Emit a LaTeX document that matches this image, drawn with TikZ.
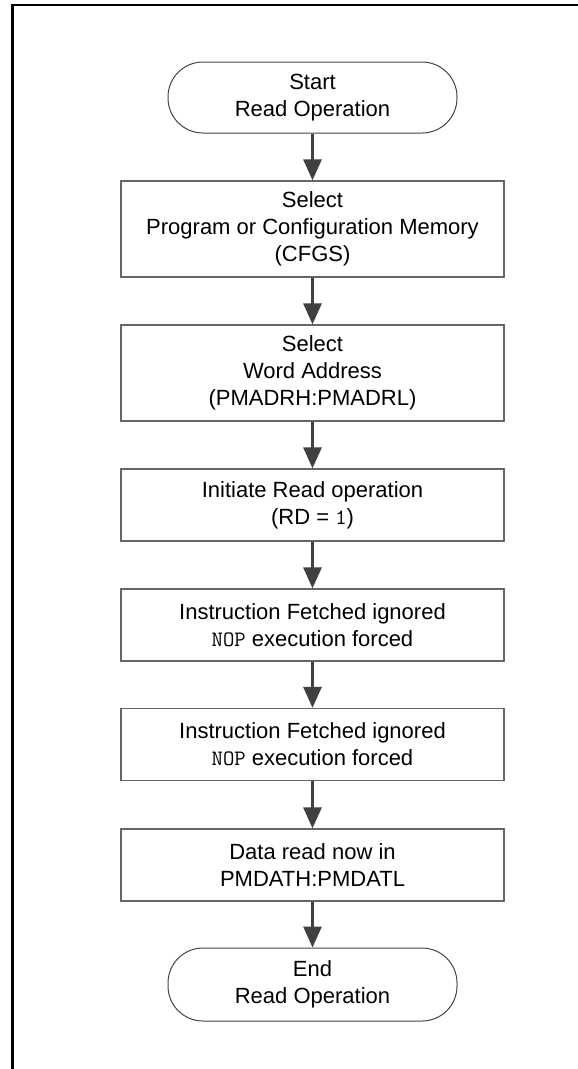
\documentclass[tikz,border=0pt]{standalone}
\usepackage{fontspec}
\setmainfont{Liberation Sans}
\usetikzlibrary{arrows.meta}
\definecolor{boxgray}{HTML}{666666}
\definecolor{arrgray}{HTML}{404040}
\definecolor{termgray}{HTML}{444444}
\begin{document}
\begin{tikzpicture}[x=1pt,y=-1pt,
  txt/.style={align=center, font=\fontsize{22}{27}\selectfont, text=black, inner sep=0pt},
  stepbox/.style={txt, draw=boxgray, line width=1.3pt, fill=white, minimum width=383pt},
  term/.style={txt, draw=termgray, line width=1pt, rounded corners=35pt, minimum width=289pt},
  arr/.style={draw=arrgray, line width=3pt, -{Triangle[length=21pt,width=18pt]}}
]
\useasboundingbox (0,0) rectangle (578,1069);
\draw[line width=2.5pt] (12.5,1069) -- (12.5,5) -- (578,5);

\node[term, minimum height=71pt] (s) at (312.5,97.5) {Start\\Read Operation};
\node[stepbox, minimum height=96pt] (b1) at (312.5,229) {Select\\Program or Configuration Memory\\(CFGS)};
\node[stepbox, minimum height=96pt] (b2) at (312.5,373) {Select\\Word Address\\(PMADRH:PMADRL)};
\node[stepbox, minimum height=72pt] (b3) at (312.5,505) {Initiate Read operation\\(RD = \texttt{1})};
\node[stepbox, minimum height=72pt] (b4) at (312.5,625) {Instruction Fetched ignored\\\texttt{NOP} execution forced};
\node[stepbox, minimum height=72pt] (b5) at (312.5,744.5) {Instruction Fetched ignored\\\texttt{NOP} execution forced};
\node[stepbox, minimum height=72pt] (b6) at (312.5,865) {Data read now in\\PMDATH:PMDATL};
\node[term, minimum height=73pt] (e) at (312.5,984.5) {End\\Read Operation};

\draw[arr] (s.south) -- (b1.north);
\draw[arr] (b1.south) -- (b2.north);
\draw[arr] (b2.south) -- (b3.north);
\draw[arr] (b3.south) -- (b4.north);
\draw[arr] (b4.south) -- (b5.north);
\draw[arr] (b5.south) -- (b6.north);
\draw[arr] (b6.south) -- (e.north);
\end{tikzpicture}
\end{document}
